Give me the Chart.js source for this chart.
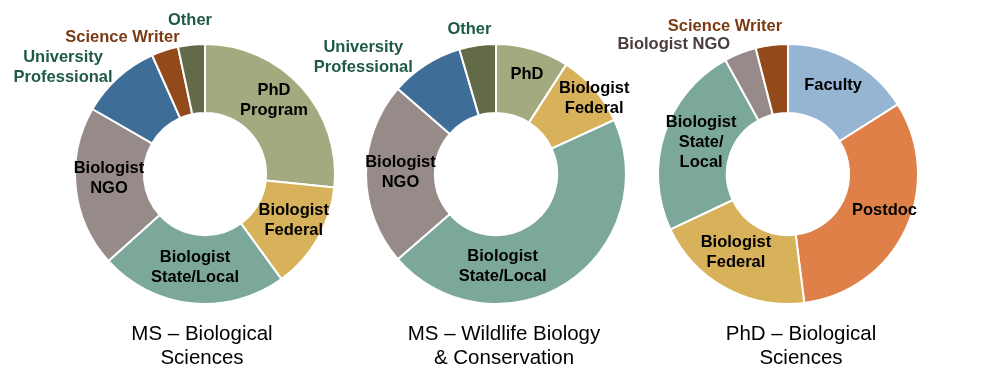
<!DOCTYPE html>
<html>
<head>
<meta charset="utf-8">
<script src="https://cdn.jsdelivr.net/npm/chart.js@4"></script>
<style>
  body { margin: 0; background: #fff; overflow: hidden; }
  #wrap { position: relative; width: 987px; height: 381px; overflow: hidden; }
  #wrap canvas { position: absolute; top: 0; }
</style>
</head>
<body>
<div id="wrap">
  <canvas id="c1" width="420" height="381" style="left:-5px"></canvas>
  <canvas id="c2" width="420" height="381" style="left:286px"></canvas>
  <canvas id="c3" width="420" height="381" style="left:578px"></canvas>
</div>
<script>

// MS - Biological Sciences
var ms1Labels = ['PhD Program', 'Biologist Federal', 'Biologist State/Local', 'Biologist NGO', 'University Professional', 'Science Writer', 'Other'];
var ms1Values = [8, 4, 7, 6, 3, 1, 1];
var ms1Text = [['PhD', 'Program'], ['Biologist', 'Federal'], ['Biologist', 'State/Local'], ['Biologist', 'NGO'], ['University', 'Professional'], ['Science Writer'], ['Other']];

// MS - Wildlife Biology & Conservation
var ms2Labels = ['PhD', 'Biologist Federal', 'Biologist State/Local', 'Biologist NGO', 'University Professional', 'Other'];
var ms2Values = [2, 2, 10, 5, 2, 1];
var ms2Text = [['PhD'], ['Biologist', 'Federal'], ['Biologist', 'State/Local'], ['Biologist', 'NGO'], ['University', 'Professional'], ['Other']];

// PhD - Biological Sciences
var phdLabels = ['Faculty', 'Postdoc', 'Biologist Federal', 'Biologist State/Local', 'Biologist NGO', 'Science Writer'];
var phdValues = [4, 8, 5, 6, 1, 1];
var phdText = [['Faculty'], ['Postdoc'], ['Biologist', 'Federal'], ['Biologist', 'State/', 'Local'], ['Biologist NGO'], ['Science Writer']];

var sliceColor = {
  'PhD Program': '#a4aa7f',
  'PhD': '#a4aa7f',
  'Biologist Federal': '#d8b15b',
  'Biologist State/Local': '#7ba89b',
  'Biologist NGO': '#978b89',
  'University Professional': '#3e6e97',
  'Science Writer': '#924a1b',
  'Other': '#626a47',
  'Faculty': '#95b5d3',
  'Postdoc': '#df8048'
};

var FONT = '"Liberation Sans", Arial, sans-serif';

function labelPlugin(cfg) {
  return {
    id: 'sliceLabels',
    afterDatasetsDraw: function (chart) {
      var ctx = chart.ctx;
      var meta = chart.getDatasetMeta(0);
      ctx.save();
      ctx.textAlign = 'center';
      ctx.textBaseline = 'middle';
      ctx.font = 'bold 16.5px ' + FONT;
      meta.data.forEach(function (arc, i) {
        var p = arc.getCenterPoint();
        var off = cfg.offsets[i];
        var lines = cfg.text[i];
        ctx.fillStyle = cfg.colors[i];
        lines.forEach(function (ln, k) {
          ctx.fillText(ln, p.x + off[0], p.y + off[1] + (k - (lines.length - 1) / 2) * 20);
        });
      });
      var cx = (chart.chartArea.left + chart.chartArea.right) / 2;
      ctx.font = '20.5px ' + FONT;
      ctx.fillStyle = '#000';
      cfg.title.forEach(function (ln, k) {
        ctx.fillText(ln, cx + cfg.titleDx, 334 + k * 24);
      });
      ctx.restore();
    }
  };
}

function makeDonut(id, labels, values, plug) {
  new Chart(id, {
    type: 'doughnut',
    data: {
      labels: labels,
      datasets: [{
        data: values,
        backgroundColor: labels.map(function (l) { return sliceColor[l]; }),
        borderColor: '#ffffff',
        borderWidth: 2
      }]
    },
    options: {
      responsive: false,
      animation: false,
      events: [],
      cutout: '47%',
      layout: { padding: { left: 79, right: 79, top: 43, bottom: 76 } },
      plugins: { legend: { display: false }, tooltip: { enabled: false } }
    },
    plugins: [labelPlugin(plug)]
  });
}

makeDonut('c1', ms1Labels, ms1Values, {
  text: ms1Text,
  colors: ['#000', '#000', '#000', '#000', '#1f5a47', '#7b3a12', '#1f5a47'],
  offsets: [[-2, -10], [6, -1], [0, -2], [-1, -6], [-78, -36], [-53, -46], [-5, -59]],
  title: ['MS \u2013 Biological', 'Sciences'],
  titleDx: -3
});

makeDonut('c2', ms2Labels, ms2Values, {
  text: ms2Text,
  colors: ['#000', '#000', '#000', '#000', '#1f5a47', '#1f5a47'],
  offsets: [[4, -8], [26, -13], [-45, 12], [0, -2], [-81, -36], [-13, -50]],
  title: ['MS \u2013 Wildlife Biology', '& Conservation'],
  titleDx: 8
});

makeDonut('c3', phdLabels, phdValues, {
  text: phdText,
  colors: ['#000', '#000', '#000', '#000', '#4a3c3c', '#7b3a12'],
  offsets: [[-1, -5], [10, -4], [-6, -5], [4, -2], [-79, -41], [-51, -53]],
  title: ['PhD \u2013 Biological', 'Sciences'],
  titleDx: 13
});
</script>
</body>
</html>
